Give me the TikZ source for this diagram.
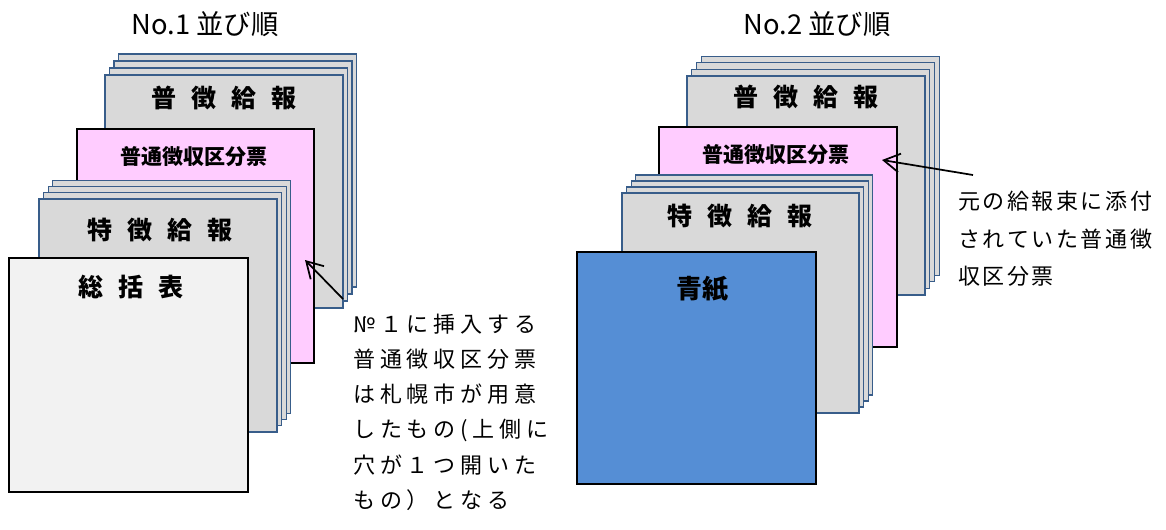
\documentclass[tikz,border=0pt]{standalone}
\usepackage{fontspec}
\setmainfont{Noto Sans CJK JP}
\usetikzlibrary{arrows.meta}

\definecolor{sheetfill}{HTML}{D9D9D9}
\definecolor{sheetline}{HTML}{385D8A}
\definecolor{slipfill}{HTML}{FFCCFF}
\definecolor{summaryfill}{HTML}{F2F2F2}
\definecolor{bluefill}{HTML}{558ED5}

% letter-spaced text: a kern after every character but the last
\makeatletter
\newcommand\lsp[2]{\@tfor\lsp@c:=#2\do{\lsp@c\kern#1\relax}\kern-#1\relax}
\makeatother

\tikzset{
  sheet/.style={draw=sheetline, fill=sheetfill, line width=0.8pt},
  heavy/.style={draw=black, line width=2pt},
  title/.style={font=\fontsize{20.5}{20.5}\selectfont, inner sep=0pt},
  biglabel/.style={font=\fontsize{18.75}{18.75}\selectfont\bfseries, inner sep=0pt},
  sliplabel/.style={font=\fontsize{15.75}{15.75}\selectfont\bfseries, inner sep=0pt},
  bluelabel/.style={font=\fontsize{19.5}{19.5}\selectfont\bfseries, inner sep=0pt},
  noteA/.style={font=\fontsize{16.5}{26.3}\selectfont, align=left, inner sep=0pt, anchor=north west},
  noteB/.style={font=\fontsize{16.5}{28.1}\selectfont, align=left, inner sep=0pt, anchor=north west},
  pointer/.style={line width=1.3pt, -{Straight Barb[length=12pt, width=14pt, line width=1.3pt]}}
}

\begin{document}
\begin{tikzpicture}[x=0.75pt, y=-0.75pt]
\useasboundingbox (0,0) rectangle (1166,529);

% ---------- No.1 ----------
\node[title] (title1) at (205,24) {No.1 並び順};

% ordinary withholding slips (back stack)
\foreach \k in {3,2,1}
  \draw[sheet] ({105+4.5*\k},{75-7*\k}) rectangle ++(238,233);
\draw[sheet] (105,75) rectangle (343,308);
\node[biglabel] (fu1) at (224,98) {\lsp{11.25pt}{普徴給報}};

% inserted slip
\draw[heavy, fill=slipfill] (77,129) rectangle (314,363);
\node[sliplabel] (slip1) at (194,157) {普通徴収区分票};

% special withholding slips
\foreach \k in {3,2,1}
  \draw[sheet] ({39+4.6*\k},{199-6.1*\k}) rectangle ++(238,233);
\draw[sheet] (39,199) rectangle (277,432);
\node[biglabel] (tok1) at (160,230) {\lsp{11.25pt}{特徴給報}};

% summary sheet
\draw[heavy, fill=summaryfill] (9,258) rectangle (248,492);
\node[biglabel] (sum1) at (131,287) {\lsp{11.25pt}{総括表}};

% note and pointer
\node[noteA] (note1) at (353,314) {%
  \lsp{3.6pt}{№１に挿入する}\\
  \lsp{3.6pt}{普通徴収区分票}\\
  \lsp{3.6pt}{は札幌市が用意}\\
  \lsp{3.6pt}{したもの(上側に}\\
  \lsp{3.6pt}{穴が１つ開いた}\\
  \lsp{3.6pt}{もの）となる}};
\coordinate (tail1) at (343,299);
\coordinate (tip1) at (305,260);
\draw[pointer] (tail1) -- (tip1);

% ---------- No.2 ----------
\node[title] (title2) at (817,24) {No.2 並び順};

\foreach \k in {3,2,1}
  \draw[sheet] ({687+4.8*\k},{76-6.6*\k}) rectangle ++(238,219);
\draw[sheet] (687,76) rectangle (925,295);
\node[biglabel] (fu2) at (806,97) {\lsp{11.25pt}{普徴給報}};

\draw[heavy, fill=slipfill] (659,127) rectangle (897,347);
\node[sliplabel] (slip2) at (776,155) {普通徴収区分票};

\foreach \k in {3,2,1}
  \draw[sheet] ({622+4.6*\k},{193-6*\k}) rectangle ++(237,220);
\draw[sheet] (622,193) rectangle (859,413);
\node[biglabel] (tok2) at (740,216) {\lsp{11.25pt}{特徴給報}};

% blue cover sheet
\draw[heavy, fill=bluefill] (577,252) rectangle (816,484);
\node[bluelabel] (blue2) at (702,289) {青紙};

\node[noteB] (note2) at (958,191) {%
  \lsp{1.9pt}{元の給報束に添付}\\
  \lsp{1.9pt}{されていた普通徴}\\
  \lsp{1.9pt}{収区分票}};
\coordinate (tail2) at (973,175);
\coordinate (tip2) at (882,160);
\draw[pointer] (tail2) -- (tip2);
\end{tikzpicture}
\end{document}
